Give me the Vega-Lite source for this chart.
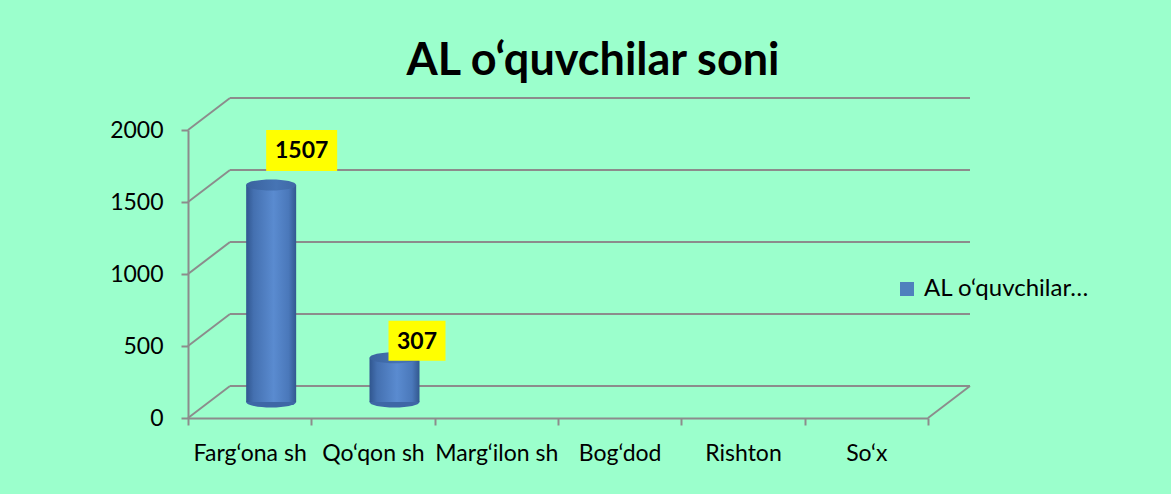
{
  "$schema": "https://vega.github.io/schema/vega-lite/v6.json",
  "width": 740,
  "height": 288,
  "autosize": "none",
  "padding": {"left": 188, "top": 130, "right": 243, "bottom": 76},
  "background": "#9BFFCC",
  "title": {
    "text": "AL o‘quvchilar soni",
    "font": "Lato",
    "fontSize": 45,
    "fontWeight": "bold",
    "color": "#000000",
    "anchor": "middle",
    "dx": 35,
    "offset": 10
  },
  "datasets": {
    "main": [
      {"region": "Farg‘ona sh", "count": 1507, "series": "AL o‘quvchilar soni"},
      {"region": "Qo‘qon sh", "count": 307, "series": "AL o‘quvchilar soni"},
      {"region": "Marg‘ilon sh", "count": 0, "series": "AL o‘quvchilar soni"},
      {"region": "Bog‘dod", "count": 0, "series": "AL o‘quvchilar soni"},
      {"region": "Rishton", "count": 0, "series": "AL o‘quvchilar soni"},
      {"region": "So‘x", "count": 0, "series": "AL o‘quvchilar soni"}
    ],
    "grid": [{"v": 0}, {"v": 500}, {"v": 1000}, {"v": 1500}, {"v": 2000}]
  },
  "layer": [
    {
      "data": {"name": "main"},
      "mark": {"type": "bar", "width": 50, "opacity": 0},
      "encoding": {
        "x": {"field": "region", "type": "nominal", "sort": null,
              "scale": {"domain": ["Farg‘ona sh", "Qo‘qon sh", "Marg‘ilon sh", "Bog‘dod", "Rishton", "So‘x"], "paddingInner": 0, "paddingOuter": 0},
              "axis": {"title": null, "tickBand": "extent", "labelAngle": 0}},
        "y": {"field": "count", "type": "quantitative", "scale": {"domain": [0, 2000], "nice": false},
              "axis": {"title": null, "values": [0, 500, 1000, 1500, 2000], "format": "d"}}
      }
    },
    {
      "data": {"name": "grid"},
      "mark": {"type": "point", "shape": "M0,0L42,-32", "size": 4, "filled": false, "opacity": 1, "stroke": "#8C8C8C", "strokeWidth": 2},
      "encoding": {
        "x": {"datum": "Farg‘ona sh", "bandPosition": 0},
        "y": {"field": "v", "type": "quantitative"}
      }
    },
    {
      "data": {"name": "grid"},
      "mark": {"type": "point", "shape": "M42,-32H782", "size": 4, "filled": false, "opacity": 1, "stroke": "#8C8C8C", "strokeWidth": 2},
      "encoding": {
        "x": {"datum": "Farg‘ona sh", "bandPosition": 0},
        "y": {"field": "v", "type": "quantitative"}
      }
    },
    {
      "data": {"name": "grid"},
      "transform": [{"filter": "datum.v == 0"}],
      "mark": {"type": "point", "shape": "M0,0L42,-32", "size": 4, "filled": false, "opacity": 1, "stroke": "#8C8C8C", "strokeWidth": 2},
      "encoding": {
        "x": {"datum": "So‘x", "bandPosition": 1},
        "y": {"field": "v", "type": "quantitative"}
      }
    },
    {
      "data": {"name": "main"},
      "transform": [{"filter": "datum.count > 0"}],
      "mark": {"type": "point", "shape": "M-25,0A25,5.5,0,1,0,25,0A25,5.5,0,1,0,-25,0Z", "size": 4, "filled": true, "opacity": 1, "strokeWidth": 0,
               "xOffset": 21.5, "yOffset": -16, "fill": "#3E67A6"},
      "encoding": {
        "x": {"field": "region", "type": "nominal", "sort": null},
        "y": {"datum": 0, "type": "quantitative"}
      }
    },
    {
      "data": {"name": "main"},
      "mark": {"type": "bar", "width": 50, "xOffset": 21.5, "yOffset": -16, "y2Offset": -16,
               "color": {"gradient": "linear", "x1": 0, "y1": 0, "x2": 1, "y2": 0,
                         "stops": [{"offset": 0, "color": "#30568F"}, {"offset": 0.15, "color": "#4470B0"},
                                   {"offset": 0.55, "color": "#5A8BD0"}, {"offset": 0.85, "color": "#4A78BA"},
                                   {"offset": 1, "color": "#32588F"}]}},
      "encoding": {
        "x": {"field": "region", "type": "nominal", "sort": null},
        "y": {"field": "count", "type": "quantitative"}
      }
    },
    {
      "data": {"name": "main"},
      "transform": [{"filter": "datum.count > 0"}],
      "mark": {"type": "point", "shape": "M-25,0A25,5.5,0,1,0,25,0A25,5.5,0,1,0,-25,0Z", "size": 4, "filled": true, "opacity": 1, "strokeWidth": 0,
               "xOffset": 21.5, "yOffset": -16,
               "fill": {"gradient": "linear", "x1": 0, "y1": 0, "x2": 1, "y2": 0,
                        "stops": [{"offset": 0, "color": "#3A629E"}, {"offset": 0.6, "color": "#4674B4"}, {"offset": 1, "color": "#3F68A6"}]}},
      "encoding": {
        "x": {"field": "region", "type": "nominal", "sort": null},
        "y": {"field": "count", "type": "quantitative"}
      }
    },
    {
      "data": {"name": "main"},
      "transform": [{"filter": "datum.count >= 1000"}],
      "mark": {"type": "point", "shape": "M-35.5,-20.5H35.5V20.5H-35.5Z", "size": 4, "filled": true, "opacity": 1, "strokeWidth": 0,
               "xOffset": 52, "yOffset": -50.5, "fill": "#FFFF00"},
      "encoding": {
        "x": {"field": "region", "type": "nominal", "sort": null},
        "y": {"field": "count", "type": "quantitative"}
      }
    },
    {
      "data": {"name": "main"},
      "transform": [{"filter": "datum.count >= 1000"}],
      "mark": {"type": "text", "font": "Lato", "fontSize": 23, "fontWeight": "bold", "color": "#000000",
               "baseline": "middle", "align": "center", "xOffset": 52, "yOffset": -49.5},
      "encoding": {
        "x": {"field": "region", "type": "nominal", "sort": null},
        "y": {"field": "count", "type": "quantitative"},
        "text": {"field": "count", "type": "quantitative", "format": "d"}
      }
    },
    {
      "data": {"name": "main"},
      "transform": [{"filter": "datum.count > 0 && datum.count < 1000"}],
      "mark": {"type": "point", "shape": "M-28.5,-20H28.5V20H-28.5Z", "size": 4, "filled": true, "opacity": 1, "strokeWidth": 0,
               "xOffset": 44, "yOffset": -33, "fill": "#FFFF00"},
      "encoding": {
        "x": {"field": "region", "type": "nominal", "sort": null},
        "y": {"field": "count", "type": "quantitative"}
      }
    },
    {
      "data": {"name": "main"},
      "transform": [{"filter": "datum.count > 0 && datum.count < 1000"}],
      "mark": {"type": "text", "font": "Lato", "fontSize": 23, "fontWeight": "bold", "color": "#000000",
               "baseline": "middle", "align": "center", "xOffset": 44, "yOffset": -32},
      "encoding": {
        "x": {"field": "region", "type": "nominal", "sort": null},
        "y": {"field": "count", "type": "quantitative"},
        "text": {"field": "count", "type": "quantitative", "format": "d"}
      }
    },
    {
      "data": {"name": "main"},
      "mark": {"type": "point", "opacity": 0, "filled": true},
      "encoding": {
        "x": {"field": "region", "type": "nominal", "sort": null},
        "y": {"field": "count", "type": "quantitative"},
        "color": {"field": "series", "type": "nominal", "scale": {"range": ["#4F81BD"]},
                  "legend": {"title": null, "orient": "none", "legendX": 707, "legendY": 147,
                             "symbolType": "square", "symbolSize": 196, "symbolOpacity": 1, "symbolStrokeWidth": 0,
                             "labelFont": "Lato", "labelFontSize": 24, "labelColor": "#000000", "labelLimit": 167,
                             "padding": 0, "labelOffset": 5}}
      }
    }
  ],
  "config": {
    "view": {"stroke": null},
    "axis": {
      "domainColor": "#8C8C8C", "domainWidth": 2, "tickColor": "#8C8C8C", "tickWidth": 2, "tickSize": 7,
      "labelFont": "Lato", "labelFontSize": 23, "labelColor": "#000000", "grid": false
    },
    "axisX": {"labelPadding": 17, "labelOverlap": false, "labelBound": false},
    "axisY": {"labelPadding": 18}
  }
}
